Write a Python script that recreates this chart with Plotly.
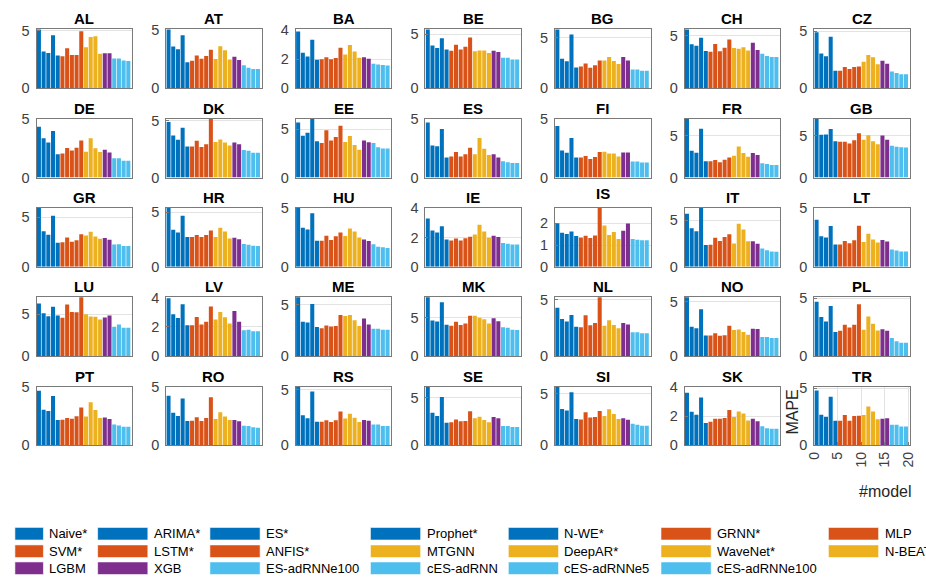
import numpy as np
import plotly.graph_objects as go

# ---------------- data ----------------
models = ["Naive*", "ARIMA*", "ES*", "Prophet*", "N-WE*", "GRNN*", "MLP",
          "SVM*", "LSTM*", "ANFIS*", "MTGNN", "DeepAR*", "WaveNet*", "N-BEATS",
          "LGBM", "XGB", "ES-adRNNe100", "cES-adRNN", "cES-adRNNe5", "cES-adRNNe100"]
model_colors = ["#0072BD"] * 5 + ["#D95319"] * 5 + ["#EDB120"] * 4 + ["#7E2F8E"] * 2 + ["#4DBEEE"] * 4
model_index = list(range(1, 21))

countries = ["AL", "AT", "BA", "BE", "BG", "CH", "CZ",
             "DE", "DK", "EE", "ES", "FI", "FR", "GB",
             "GR", "HR", "HU", "IE", "IS", "IT", "LT",
             "LU", "LV", "ME", "MK", "NL", "NO", "PL",
             "PT", "RO", "RS", "SE", "SI", "SK", "TR"]

AL = [5.5, 3.18, 3.06, 4.6, 2.83, 2.77, 3.47, 2.89, 2.89, 4.95, 3.55, 4.45, 4.5, 2.98, 3.03, 3.03, 2.57, 2.57, 2.4, 2.37]
AT = [5.3, 3.58, 3.35, 4.55, 2.23, 2.37, 2.8, 2.54, 2.77, 3.3, 2.51, 3.6, 3.27, 2.46, 2.71, 2.43, 1.98, 1.76, 1.65, 1.65]
BA = [3.9, 2.44, 2.19, 3.34, 1.96, 1.99, 2.14, 1.99, 2.08, 2.78, 2.33, 2.98, 2.53, 2.1, 2.14, 2.03, 1.69, 1.63, 1.6, 1.56]
BE = [6.0, 3.97, 3.73, 4.64, 3.6, 3.48, 4.03, 3.58, 3.85, 4.7, 3.42, 3.5, 3.5, 3.27, 3.48, 3.36, 2.82, 2.82, 2.67, 2.67]
BG = [6.2, 2.94, 2.68, 5.35, 2.06, 2.16, 2.45, 2.03, 2.29, 2.77, 2.77, 3.1, 2.71, 2.42, 3.1, 2.77, 1.87, 1.87, 1.74, 1.74]
CH = [6.0, 4.19, 4.04, 4.81, 3.54, 3.48, 4.22, 3.51, 3.85, 4.63, 3.82, 3.76, 3.91, 3.6, 4.32, 3.63, 3.29, 3.07, 2.98, 2.98]
CZ = [4.89, 3.03, 2.8, 4.51, 1.54, 1.54, 1.86, 1.69, 1.86, 1.91, 2.31, 2.91, 2.71, 2.09, 2.4, 2.14, 1.46, 1.34, 1.23, 1.23]
DE = [4.34, 3.35, 2.99, 3.96, 1.98, 2.06, 2.53, 2.31, 2.55, 3.16, 2.2, 3.35, 2.5, 2.17, 2.36, 2.14, 1.65, 1.65, 1.43, 1.43]
DK = [4.91, 3.71, 3.34, 4.4, 2.74, 2.74, 3.26, 2.69, 2.94, 5.4, 3.14, 3.37, 3.09, 2.83, 3.09, 2.94, 2.43, 2.37, 2.2, 2.2]
EE = [5.7, 4.33, 4.63, 6.3, 3.76, 3.59, 4.9, 3.83, 4.19, 5.37, 3.69, 4.3, 3.36, 2.89, 3.83, 3.66, 3.59, 3.15, 3.02, 3.02]
ES = [4.72, 2.75, 2.69, 4.17, 1.72, 1.8, 2.19, 1.8, 2.0, 2.55, 2.0, 3.39, 2.47, 1.94, 2.0, 1.72, 1.39, 1.31, 1.25, 1.25]
FI = [4.4, 2.31, 2.12, 3.38, 1.7, 1.7, 1.84, 1.59, 1.76, 2.17, 2.2, 2.06, 2.06, 1.79, 2.14, 2.14, 1.37, 1.37, 1.29, 1.29]
FR = [7.5, 3.22, 2.98, 5.85, 1.94, 1.94, 2.09, 1.82, 2.13, 2.4, 2.6, 3.72, 2.95, 2.48, 2.95, 2.71, 1.71, 1.63, 1.51, 1.51]
GB = [7.5, 5.12, 5.16, 5.81, 4.34, 4.3, 4.3, 4.07, 4.46, 5.31, 4.53, 5.08, 4.34, 4.0, 5.04, 4.53, 3.8, 3.68, 3.64, 3.6]
GR = [6.2, 3.58, 3.23, 5.16, 2.42, 2.48, 2.97, 2.52, 2.68, 3.29, 3.16, 3.55, 3.06, 2.84, 2.9, 2.74, 2.26, 2.29, 2.1, 2.1]
HR = [5.8, 3.39, 3.13, 4.68, 2.72, 2.72, 2.92, 2.72, 2.92, 3.33, 2.72, 3.57, 3.22, 2.6, 2.66, 2.51, 2.08, 2.02, 1.93, 1.9]
HU = [5.2, 3.34, 3.18, 4.57, 2.23, 2.23, 2.66, 2.28, 2.61, 2.93, 2.64, 3.26, 3.02, 2.5, 2.34, 2.2, 1.93, 1.71, 1.66, 1.6]
IE = [3.3, 2.48, 2.35, 2.78, 1.87, 1.8, 1.93, 1.8, 1.95, 2.05, 2.2, 2.87, 2.41, 1.98, 2.13, 2.04, 1.63, 1.57, 1.52, 1.52]
IS = [2.0, 1.56, 1.51, 1.62, 1.41, 1.34, 1.43, 1.32, 1.44, 2.9, 1.9, 1.46, 1.6, 1.28, 1.66, 1.99, 1.28, 1.24, 1.22, 1.22]
IT = [5.68, 4.14, 3.8, 6.6, 2.33, 2.36, 3.12, 2.77, 3.18, 3.49, 2.5, 4.62, 4.0, 2.74, 2.74, 2.47, 1.95, 1.78, 1.64, 1.61]
LT = [4.02, 2.61, 2.5, 3.48, 1.9, 1.9, 2.2, 2.01, 2.26, 3.51, 2.12, 2.83, 2.34, 2.07, 2.28, 2.17, 1.47, 1.39, 1.3, 1.3]
LU = [6.29, 5.12, 4.77, 5.9, 4.84, 4.57, 6.17, 5.27, 5.23, 7.2, 5.0, 4.73, 4.69, 4.38, 4.61, 4.84, 3.52, 3.79, 3.4, 3.4]
LV = [3.95, 2.86, 2.61, 3.55, 2.11, 2.11, 2.68, 2.16, 2.34, 3.39, 2.5, 3.02, 2.66, 2.23, 3.09, 2.34, 1.77, 1.8, 1.7, 1.7]
ME = [6.0, 3.32, 3.26, 5.06, 2.82, 2.69, 2.97, 2.88, 2.91, 3.99, 3.89, 3.99, 3.48, 2.91, 3.64, 3.07, 2.66, 2.66, 2.56, 2.56]
MK = [8.0, 4.62, 4.49, 6.99, 4.07, 3.94, 4.45, 4.03, 4.24, 5.25, 5.25, 4.96, 4.79, 4.24, 4.92, 4.53, 3.73, 3.69, 3.43, 3.39]
NL = [4.28, 3.27, 3.06, 3.64, 2.6, 2.54, 3.61, 2.72, 2.92, 5.5, 2.69, 3.18, 2.75, 2.46, 2.92, 2.8, 2.11, 2.11, 2.02, 2.02]
NO = [5.8, 2.71, 2.56, 4.31, 1.9, 1.9, 2.11, 1.87, 1.93, 2.8, 2.41, 2.44, 2.23, 1.96, 2.53, 2.5, 1.75, 1.75, 1.66, 1.66]
PL = [4.72, 3.4, 3.0, 4.35, 2.08, 2.19, 2.72, 2.47, 2.72, 4.49, 2.28, 3.43, 2.81, 2.22, 2.33, 2.19, 1.57, 1.29, 1.15, 1.15]
PT = [4.7, 3.07, 2.96, 4.24, 2.17, 2.2, 2.36, 2.28, 2.5, 3.26, 2.47, 3.7, 3.04, 2.36, 2.39, 2.26, 1.79, 1.71, 1.6, 1.6]
RO = [4.27, 2.8, 2.53, 4.02, 2.09, 2.12, 2.42, 2.09, 2.36, 4.13, 2.26, 2.85, 2.47, 2.17, 2.17, 2.07, 1.68, 1.66, 1.55, 1.52]
RS = [5.6, 2.71, 2.46, 4.86, 2.14, 2.14, 2.26, 2.11, 2.26, 3.06, 2.43, 2.86, 2.49, 2.11, 2.29, 2.23, 1.89, 1.89, 1.74, 1.74]
SE = [6.5, 3.41, 3.08, 5.07, 2.38, 2.42, 2.72, 2.52, 2.55, 3.58, 2.85, 3.01, 2.65, 2.42, 2.98, 2.85, 2.02, 2.02, 1.92, 1.92]
SI = [6.0, 3.53, 3.37, 5.15, 2.55, 2.52, 3.22, 2.7, 2.76, 3.34, 2.85, 3.5, 3.04, 2.55, 2.64, 2.48, 2.09, 1.99, 1.9, 1.9]
SK = [3.63, 2.32, 2.11, 3.29, 1.55, 1.63, 1.83, 1.83, 1.89, 2.43, 1.96, 2.34, 2.19, 1.72, 1.83, 1.66, 1.31, 1.18, 1.14, 1.14]
TR = [4.8, 2.68, 2.51, 4.25, 2.15, 2.15, 2.65, 2.15, 2.57, 2.6, 2.65, 3.4, 2.96, 2.29, 2.32, 2.38, 1.8, 1.8, 1.66, 1.66]

y_max = [5.1, 5.05, 4.05, 5.45, 5.85, 5.6, 5.15,
         5.02, 5.2, 6.1, 5.05, 5.02, 7.05, 7.05,
         5.94, 5.38, 5.02, 4.02, 2.7, 6.3, 5.02,
         7.03, 4.02, 5.7, 7.63, 5.2, 5.42, 5.1,
         5.05, 5.05, 5.31, 6.16, 5.7, 4.05, 5.14]
y_tick_step = [5, 5, 2, 5, 5, 5, 5,
               5, 5, 5, 5, 5, 5, 5,
               5, 5, 5, 2, 1, 5, 5,
               5, 2, 5, 5, 5, 5, 5,
               5, 5, 5, 5, 5, 2, 5]
x_ticks_last = [0, 5, 10, 15, 20]

mape = {"AL": AL, "AT": AT, "BA": BA, "BE": BE, "BG": BG, "CH": CH, "CZ": CZ,
        "DE": DE, "DK": DK, "EE": EE, "ES": ES, "FI": FI, "FR": FR, "GB": GB,
        "GR": GR, "HR": HR, "HU": HU, "IE": IE, "IS": IS, "IT": IT, "LT": LT,
        "LU": LU, "LV": LV, "ME": ME, "MK": MK, "NL": NL, "NO": NO, "PL": PL,
        "PT": PT, "RO": RO, "RS": RS, "SE": SE, "SI": SI, "SK": SK, "TR": TR}

# ---------------- layout geometry (pixels) ----------------
W, H = 926, 585
col_left = [29, 160.6, 292.2, 423.8, 555.4, 687, 818.6]
ax_w = 97
row_top = [22, 113.8, 205.6, 297.4, 389.2]
ax_h = 60.5
FONT = "Liberation Sans, Arial, Helvetica, sans-serif"

fig = go.Figure()
layout = dict(width=W, height=H, autosize=False,
              margin=dict(l=0, r=0, t=0, b=0),
              paper_bgcolor="white", plot_bgcolor="white",
              showlegend=False, bargap=0.12,
              font=dict(family=FONT, size=14, color="#404040"))
annotations = []
shapes = []

for k, c in enumerate(countries):
    r, col = divmod(k, 7)
    L = col_left[col]
    T = row_top[r]
    n = k + 1
    xa = "xaxis" if n == 1 else f"xaxis{n}"
    ya = "yaxis" if n == 1 else f"yaxis{n}"
    xr = "x" if n == 1 else f"x{n}"
    yr = "y" if n == 1 else f"y{n}"
    # bar positions: model number, centred in its unit cell
    xpos = [m - 0.5 for m in model_index]
    fig.add_trace(go.Bar(x=xpos, y=mape[c], xaxis=xr, yaxis=yr,
                         marker=dict(color=model_colors, line=dict(width=0)),
                         width=0.86, name=c, hovertext=models))
    last = (k == len(countries) - 1)
    step = y_tick_step[k]
    ticks = list(np.arange(0, y_max[k] + 1e-9, step))
    layout[xa] = dict(domain=[L / W, (L + ax_w) / W], anchor=yr,
                      range=[0, 20.3], showline=True, linecolor="#7a7a7a",
                      linewidth=1, mirror=True, zeroline=False,
                      showgrid=last, gridcolor="#e3e3e3",
                      tickvals=x_ticks_last if last else [],
                      showticklabels=last, tickangle=-90,
                      ticks="inside" if last else "", ticklen=3, tickcolor="#7a7a7a",
                      tickfont=dict(size=14, color="#404040", family=FONT),
                      fixedrange=True)
    layout[ya] = dict(domain=[1 - (T + ax_h) / H, 1 - T / H], anchor=xr,
                      range=[0, y_max[k]], showline=True, linecolor="#7a7a7a",
                      linewidth=1, mirror=True, zeroline=False,
                      showgrid=True, gridcolor="#e3e3e3",
                      tickvals=ticks, tickformat="d",
                      ticks="inside", ticklen=3, tickcolor="#7a7a7a",
                      ticklabelstandoff=3,
                      tickfont=dict(size=14.5, color="#404040", family=FONT),
                      fixedrange=True)
    annotations.append(dict(text=f"<b>{c}</b>", x=(L + ax_w / 2) / W,
                            y=1 - (T - 0 - (4 if c == "IS" else 0)) / H,
                            xref="paper", yref="paper", xanchor="center",
                            yanchor="bottom", showarrow=False,
                            font=dict(size=15, color="#000000", family=FONT)))

# axis labels
annotations.append(dict(text="MAPE", x=797 / W, y=1 - 415 / H, xref="paper", yref="paper",
                        textangle=-90, showarrow=False, xanchor="center", yanchor="middle",
                        font=dict(size=16, color="#262626", family=FONT)))
annotations.append(dict(text="#model", x=890 / W, y=1 - 497 / H, xref="paper", yref="paper",
                        showarrow=False, xanchor="center", yanchor="middle",
                        font=dict(size=16, color="#262626", family=FONT)))

# legend (drawn manually, MATLAB-like column layout)
sw_left = [7, 91, 205, 368, 508, 663, 833]
sw_right = [36, 142, 256, 419, 559, 714, 884]
txt_left = [40, 146, 260, 423, 563, 718, 888]
leg_row_y = [540.5, 558.5, 576]
for m, name in enumerate(models):
    lr, lc = divmod(m, 7)
    yc = leg_row_y[lr]
    shapes.append(dict(type="rect", xref="paper", yref="paper",
                       x0=sw_left[lc] / W, x1=sw_right[lc] / W,
                       y0=1 - (yc + 6.5) / H, y1=1 - (yc - 6.5) / H,
                       fillcolor=model_colors[m], line=dict(width=0.6, color="#ffffff")))
    annotations.append(dict(text=name, x=txt_left[lc] / W, y=1 - yc / H,
                            xref="paper", yref="paper", xanchor="left", yanchor="middle",
                            showarrow=False, font=dict(size=13, color="#000000", family=FONT)))

layout["annotations"] = annotations
layout["shapes"] = shapes
fig.update_layout(**layout)
fig.write_html("out.html", config={"displayModeBar": False})
